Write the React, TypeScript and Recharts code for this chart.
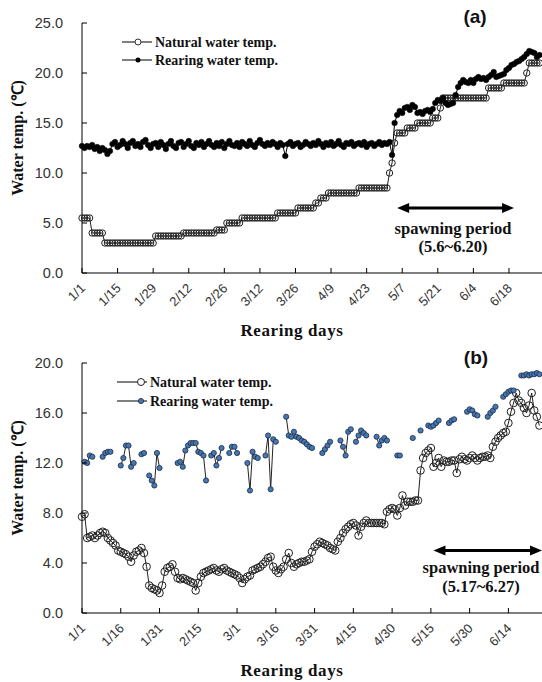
import { LineChart, Line, XAxis, YAxis, ReferenceLine } from "recharts";

// ---- panel (a) ----
const tickDaysA = [0, 14, 28, 42, 56, 70, 84, 98, 112, 126, 140, 154, 168];
const tickLabelsA = ["1/1", "1/15", "1/29", "2/12", "2/26", "3/12", "3/26", "4/9", "4/23", "5/7", "5/21", "6/4", "6/18"];
const yTicksA = [0, 5, 10, 15, 20, 25];
const spawnA = [124, 170];

const naturalA = [
  5.5, 5.5, 5.5, 5.5, 4.0, 4.0, 4.0, 4.0, 4.0, 3.0,
  3.0, 3.0, 3.0, 3.0, 3.0, 3.0, 3.0, 3.0, 3.0, 3.0,
  3.0, 3.0, 3.0, 3.0, 3.0, 3.0, 3.0, 3.0, 3.0, 3.7,
  3.7, 3.7, 3.7, 3.7, 3.7, 3.7, 3.7, 3.7, 3.7, 3.7,
  4.0, 4.0, 4.0, 4.0, 4.0, 4.0, 4.0, 4.0, 4.0, 4.0,
  4.0, 4.0, 4.0, 4.3, 4.3, 4.3, 4.3, 5.0, 5.0, 5.0,
  5.0, 5.0, 5.0, 5.5, 5.5, 5.5, 5.5, 5.5, 5.5, 5.5,
  5.5, 5.5, 5.5, 5.5, 5.5, 5.5, 5.5, 6.0, 6.0, 6.0,
  6.0, 6.0, 6.0, 6.0, 6.0, 6.5, 6.5, 6.5, 6.5, 6.5,
  6.5, 6.5, 7.0, 7.0, 7.5, 7.5, 7.5, 8.0, 8.0, 8.0,
  8.0, 8.0, 8.0, 8.0, 8.0, 8.0, 8.0, 8.0, 8.0, 8.5,
  8.5, 8.5, 8.5, 8.5, 8.5, 8.5, 8.5, 8.5, 8.5, 8.5,
  8.5, 10.0, 11.0, 13.0, 14.0, 14.0, 14.0, 14.0, 14.5, 14.5,
  14.5, 14.5, 15.0, 15.0, 15.0, 15.0, 15.0, 15.0, 15.5, 15.5,
  15.5, 16.5, 17.5, 17.5, 17.5, 17.5, 17.5, 17.5, 17.5, 17.5,
  17.5, 17.5, 17.5, 17.5, 17.5, 17.5, 17.5, 17.5, 17.5, 17.5,
  18.5, 18.5, 18.5, 18.5, 18.5, 18.5, 19.0, 19.0, 19.0, 19.0,
  19.0, 19.0, 19.0, 19.0, 19.0, 20.0, 21.0, 21.0, 21.0, 21.0,
  21.0,
];

const rearingA = [
  12.7, 12.5, 12.7, 12.6, 12.8, 12.4, 12.6, 12.2, 12.5, 12.3,
  11.9, 12.2, 12.9, 13.1, 12.6, 12.8, 13.2, 12.9, 12.5, 13.0,
  13.2, 12.7, 12.9, 12.6, 13.1, 13.3, 12.8, 12.5, 12.9, 13.0,
  12.6, 13.1, 12.8, 12.4, 12.9, 13.2, 12.7, 12.5, 13.0, 13.1,
  12.6, 12.9, 13.2, 12.7, 12.5, 13.0, 12.8, 13.1, 12.6, 12.9,
  13.2, 12.8, 12.6, 13.0, 12.7, 13.1, 12.5, 12.9, 13.2, 12.8,
  12.7, 13.0, 12.6, 13.1, 12.9, 12.7, 13.2, 12.8, 12.6, 13.0,
  13.3, 12.9, 12.7, 13.0, 12.8, 13.1, 12.9, 12.6, 13.0, 12.8,
  11.7, 12.9, 13.1, 12.7, 12.9, 13.0, 12.6, 12.8, 13.1, 12.9,
  12.7, 13.0, 12.8, 13.2, 12.9, 12.6, 13.0, 12.8, 13.1, 12.7,
  12.9, 13.2, 12.8, 12.6, 13.0, 12.9, 13.1, 12.7, 12.9, 13.0,
  12.8, 13.1, 12.6, 12.9, 13.0, 12.7, 12.9, 13.1, 12.8, 13.0,
  12.9, 13.1, 11.8, 15.0, 15.8, 16.2, 16.0, 16.5, 16.6, 16.3,
  16.8, 16.6, 16.0, 16.1, 15.9, 16.2, 16.3, 16.1, 16.4, 17.0,
  17.3, 17.2, 17.5, 17.0, 16.8, 16.9, 17.0, 17.8, 18.6, 19.0,
  19.3, 19.1, 19.0, 19.3, 19.0, 19.4, 19.6, 19.4, 19.5, 19.3,
  19.6, 19.8, 20.1, 19.6, 19.7, 19.8, 19.9, 20.3, 20.5, 20.8,
  20.9, 21.1, 21.2, 21.4, 21.6, 21.9, 22.2, 22.1, 22.0, 21.6,
  21.8,
];

// ---- panel (b) ----
const tickDaysB = [0, 15, 30, 45, 60, 75, 90, 105, 120, 135, 150, 165];
const tickLabelsB = ["1/1", "1/16", "1/31", "2/15", "3/1", "3/16", "3/31", "4/15", "4/30", "5/15", "5/30", "6/14"];
const yTicksB = [0, 4, 8, 12, 16, 20];
const spawnB = [136, 178];

const naturalB = [
  7.7, 7.9, 6.0, 6.1, 6.2, 6.0, 6.2, 6.4, 6.5, 6.4,
  6.0, 5.8, 5.6, 5.4, 5.0, 4.9, 4.8, 4.7, 4.5, 4.1,
  4.6, 4.9, 5.0, 5.2, 4.8, 3.7, 2.2, 2.0, 1.9, 1.8,
  1.6, 2.2, 3.3, 3.6, 3.7, 3.9, 3.3, 2.8, 2.7, 2.8,
  2.7, 2.6, 2.5, 2.4, 1.8, 2.4, 2.9, 3.2, 3.3, 3.4,
  3.5, 3.6, 3.4, 3.3, 3.5, 3.6, 3.4, 3.3, 3.2, 3.1,
  3.0, 2.8, 2.4, 2.7, 2.9, 3.0, 3.4, 3.5, 3.6, 3.7,
  3.9, 4.1, 4.4, 4.5, 3.7, 3.4, 3.2, 3.5, 3.7, 4.3,
  4.8, 4.0, 3.7, 3.9, 4.0, 4.1, 4.1, 4.2, 4.3, 4.9,
  5.3, 5.5, 5.7, 5.6, 5.5, 5.4, 5.2, 5.1, 5.0, 5.7,
  6.0, 6.4, 6.7, 6.9, 7.1, 7.2, 7.0, 6.2, 6.9, 7.2,
  7.4, 7.2, 7.2, 7.2, 7.2, 7.2, 7.2, 7.1, 8.1, 8.3,
  8.4, 8.3, 7.8, 8.4, 9.4, 8.6, 8.9, 8.9, 8.9, 9.0,
  9.0, 11.4, 12.4, 12.8, 13.0, 13.2, 11.7, 12.0, 12.4, 11.7,
  12.2, 12.1, 12.1, 12.2, 12.2, 11.2, 12.3, 12.5, 12.3, 12.2,
  12.4, 12.6, 12.4, 12.2, 12.4, 12.5, 12.5, 12.6, 12.4, 13.3,
  13.7, 14.0, 14.2, 14.4, 14.5, 15.2, 16.1, 16.8, 17.6, 17.0,
  16.8, 16.4, 16.0, 16.6, 17.6, 16.2, 15.7, 15.0,
];

const rearingB = [
  null, 12.1, 12.0, 12.6, 12.5, null, null, null, 12.5, 12.8,
  12.9, 12.9, null, null, null, 11.8, 12.4, 13.4, 13.4, 11.7,
  12.0, null, null, 12.7, 12.8, null, 11.0, 10.6, 10.2, 12.8,
  11.6, null, null, null, null, null, null, 12.0, 12.1, 11.7,
  13.0, 13.4, 13.6, 13.6, 13.6, 12.9, 12.8, 12.6, 10.6, null,
  12.6, 12.8, 11.8, 12.4, 13.2, null, null, 12.8, 13.3, 13.3,
  12.8, null, null, null, 12.0, 9.8, 12.9, 12.5, 12.4, null,
  null, 12.6, 14.2, 9.9, 13.9, 13.7, null, null, null, 15.7,
  14.2, 14.1, 14.5, 14.1, 14.0, 13.8, 13.7, 13.5, 13.3, 13.2,
  null, null, null, 12.8, 13.1, 13.4, 13.7, null, null, null,
  13.8, 13.3, 12.6, 14.5, 14.7, null, 13.7, 14.2, 14.6, 14.4,
  14.2, null, null, null, 14.1, 13.4, 13.8, 14.0, 13.8, null,
  null, null, 12.6, 12.6, null, null, null, null, 14.0, null,
  null, 14.6, null, null, 15.0, 14.9, 15.0, 15.2, 15.4, null,
  null, null, 15.2, 15.4, 15.5, null, null, null, null, 16.1,
  16.3, 16.2, 15.9, 15.8, null, null, null, 15.7, 16.0, 16.2,
  16.5, null, null, 17.3, 17.5, 17.7, 17.8, 17.8, null, null,
  19.0, 19.0, 19.1, 19.0, 19.1, 19.1, 19.2, 19.1,
];

const dataA = naturalA.map((v, i) => ({ day: i, natural: v, rearing: rearingA[i] }));
const dataB = naturalB.map((v, i) => ({ day: i, natural: v, rearing: rearingB[i] }));

const SANS = '"Liberation Sans", Arial, sans-serif';
const SERIF = '"Liberation Serif", "Times New Roman", serif';

const makeXTick = (days: number[], labels: string[]) => (p: any) => {
  const { x, y, payload } = p;
  const label = labels[days.indexOf(payload.value)];
  return (
    <g>
      <line x1={x} y1={y} x2={x} y2={y - 5} stroke="#000" />
      <text x={x + 4} y={y + 16} transform={`rotate(-45, ${x + 4}, ${y + 16})`} textAnchor="end"
        fontSize={13} fill="#333" fontFamily={SANS}>{label}</text>
    </g>
  );
};

const YTick = (p: any) => {
  const { x, y, payload } = p;
  return (
    <g>
      <line x1={x} y1={y} x2={x + 5} y2={y} stroke="#000" />
      <text x={x - 19} y={y + 5} textAnchor="end" fontSize={14.5} fill="#333" fontFamily={SANS}>
        {Number(payload.value).toFixed(1)}
      </text>
    </g>
  );
};

const Arrow = (p: any) => {
  const { x1, y1, x2, y2 } = p;
  return (
    <g>
      <line x1={x1 + 8} y1={y1} x2={x2 - 8} y2={y2} stroke="#000" strokeWidth={3} />
      <polygon points={`${x1},${y1} ${x1 + 12},${y1 - 5} ${x1 + 12},${y1 + 5}`} fill="#000" />
      <polygon points={`${x2},${y2} ${x2 - 12},${y2 - 5} ${x2 - 12},${y2 + 5}`} fill="#000" />
    </g>
  );
};

export default function App() {
  return (
    <div style={{ position: "absolute", left: 0, top: 0, width: 542, height: 682, background: "#fff" }}>
      <div style={{ position: "absolute", left: 0, top: 0 }}>
        <LineChart width={542} height={341} data={dataA} margin={{ top: 23, right: 0, bottom: 38, left: 22 }}>
          <XAxis dataKey="day" type="number" domain={[0, 181]} ticks={tickDaysA} interval={0}
            tickSize={0} tickMargin={0} tickLine={false} axisLine={{ stroke: "#000" }}
            tick={makeXTick(tickDaysA, tickLabelsA)} />
          <YAxis type="number" domain={[0, 25]} ticks={yTicksA} interval={0} width={60}
            tickSize={0} tickMargin={0} tickLine={false} axisLine={{ stroke: "#000" }} tick={YTick} />
          <Line dataKey="natural" stroke="#222" strokeWidth={1} isAnimationActive={false} activeDot={false}
            dot={{ r: 3.2, fill: "none", stroke: "#222", strokeWidth: 1 }} />
          <Line dataKey="rearing" stroke="#000" strokeWidth={1} isAnimationActive={false} activeDot={false}
            dot={{ r: 2.8, fill: "#000", stroke: "#000", strokeWidth: 0.5 }} />
          <ReferenceLine segment={[{ x: spawnA[0], y: 6.5 }, { x: spawnA[1], y: 6.5 }]} shape={Arrow} ifOverflow="visible" />
        </LineChart>
      </div>
      <div style={{ position: "absolute", left: 0, top: 341 }}>
        <LineChart width={542} height={341} data={dataB} margin={{ top: 22, right: 0, bottom: 39, left: 22 }}>
          <XAxis dataKey="day" type="number" domain={[0, 178]} ticks={tickDaysB} interval={0}
            tickSize={0} tickMargin={0} tickLine={false} axisLine={{ stroke: "#000" }}
            tick={makeXTick(tickDaysB, tickLabelsB)} />
          <YAxis type="number" domain={[0, 20]} ticks={yTicksB} interval={0} width={60}
            tickSize={0} tickMargin={0} tickLine={false} axisLine={{ stroke: "#000" }} tick={YTick} />
          <Line dataKey="natural" stroke="#222" strokeWidth={1} isAnimationActive={false} activeDot={false}
            dot={{ r: 3.8, fill: "none", stroke: "#222", strokeWidth: 1 }} />
          <Line dataKey="rearing" stroke="#222" strokeWidth={1} isAnimationActive={false} activeDot={false}
            dot={{ r: 2.6, fill: "#4677b0", stroke: "#1b2c45", strokeWidth: 0.8 }} />
          <ReferenceLine segment={[{ x: spawnB[0], y: 5 }, { x: spawnB[1], y: 5 }]} shape={Arrow} ifOverflow="visible" />
        </LineChart>
      </div>
      <svg width={542} height={682} style={{ position: "absolute", left: 0, top: 0, pointerEvents: "none" }}>
        <g fontFamily={SERIF} fontWeight="bold" fill="#111">
          {/* legend (a) */}
          <line x1={122} y1={42} x2={152} y2={42} stroke="#000" />
          <circle cx={138} cy={42} r={3} fill="#fff" stroke="#333" />
          <text x={155} y={46.5} fontSize={14}>Natural water temp.</text>
          <line x1={122} y1={60} x2={152} y2={60} stroke="#000" />
          <circle cx={138} cy={60} r={2.5} fill="#000" />
          <text x={155} y={64.5} fontSize={14}>Rearing water temp.</text>
          {/* legend (b) */}
          <line x1={117} y1={382} x2={147} y2={382} stroke="#000" />
          <circle cx={141} cy={382} r={3.5} fill="#fff" stroke="#222" />
          <text x={150} y={386.5} fontSize={14}>Natural water temp.</text>
          <line x1={117} y1={401} x2={147} y2={401} stroke="#000" />
          <circle cx={141} cy={401} r={2.6} fill="#4677b0" stroke="#1b2c45" strokeWidth={0.8} />
          <text x={150} y={405.5} fontSize={14}>Rearing water temp.</text>

          <text x={292} y={336} fontSize={17} letterSpacing={0.6} textAnchor="middle">Rearing days</text>
          <text x={292} y={676} fontSize={17} letterSpacing={0.6} textAnchor="middle">Rearing days</text>
          <text x={23} y={138} fontSize={16} textAnchor="middle" transform="rotate(-90, 23, 138)">Water temp. (℃)</text>
          <text x={23} y={478} fontSize={16} textAnchor="middle" transform="rotate(-90, 23, 478)">Water temp. (℃)</text>

          <text x={453} y={234} fontSize={16.5} textAnchor="middle">spawning period</text>
          <text x={453} y={252} fontSize={16.5} textAnchor="middle">(5.6~6.20)</text>
          <text x={481} y={573} fontSize={16.5} textAnchor="middle">spawning period</text>
          <text x={481} y={592} fontSize={16.5} textAnchor="middle">(5.17~6.27)</text>
        </g>
        <text x={475} y={23} fontSize={19} fontWeight="bold" fontFamily={SANS} textAnchor="middle" fill="#111">(a)</text>
        <text x={476} y={364} fontSize={19} fontWeight="bold" fontFamily={SANS} textAnchor="middle" fill="#111">(b)</text>
      </svg>
    </div>
  );
}
